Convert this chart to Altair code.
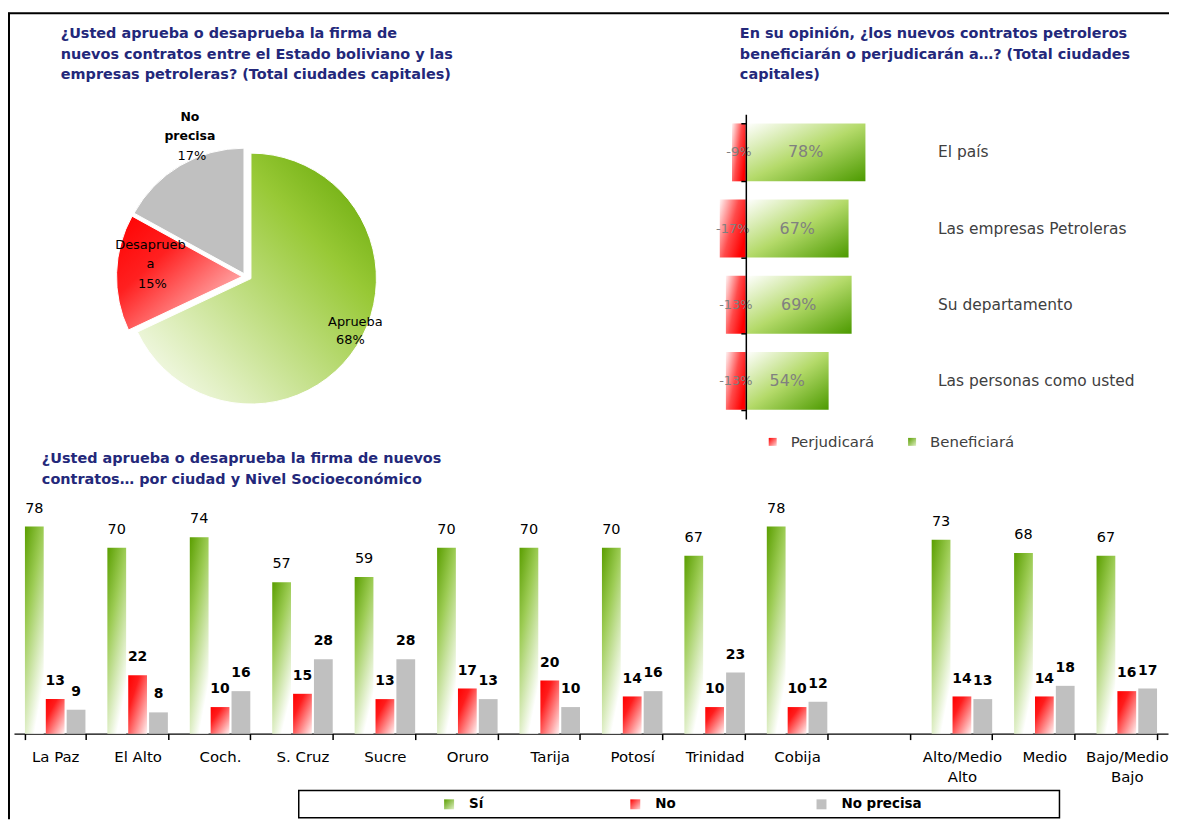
import altair as alt
import pandas as pd

W, H = 1166, 813
FONT = "DejaVu Sans"
NAVY = "#23287a"

# ---------------- data ----------------
pie_cats = ["Aprueba", "Desaprueba", "No precisa"]
pie_names = ["Aprueba", "Desaprueb\na", "No\nprecisa"]
pie_values = [68, 15, 17]

hb_cats = ["El país", "Las empresas Petroleras", "Su departamento", "Las personas como usted"]
hb_series = ["Perjudicará", "Beneficiará"]
hb_perjudicara = [-9, -17, -13, -13]
hb_beneficiara = [78, 67, 69, 54]

cities = ["La Paz", "El Alto", "Coch.", "S. Cruz", "Sucre", "Oruro", "Tarija",
          "Potosí", "Trinidad", "Cobija"]
nse_levels = ["Alto/Medio Alto", "Medio", "Bajo/Medio Bajo"]
gap_slot = [" "]
bar_series = ["Sí", "No", "No precisa"]
si_values = [78, 70, 74, 57, 59, 70, 70, 70, 67, 78, 73, 68, 67]
no_values = [13, 22, 10, 15, 13, 17, 20, 14, 10, 10, 14, 14, 16]
np_values = [9, 8, 16, 28, 28, 13, 10, 16, 23, 12, 13, 18, 17]

title_pie = ("¿Usted aprueba o desaprueba la firma de\n"
             "nuevos contratos entre el Estado boliviano y las\n"
             "empresas petroleras? (Total ciudades capitales)")
title_hb = ("En su opinión, ¿los nuevos contratos petroleros\n"
            "beneficiarán o perjudicarán a…? (Total ciudades\n"
            "capitales)")
title_bar = ("¿Usted aprueba o desaprueba la firma de nuevos\n"
             "contratos… por ciudad y Nivel Socioeconómico")


def lin(stops, x1=0, y1=0, x2=1, y2=1):
    return {"gradient": "linear", "x1": x1, "y1": y1, "x2": x2, "y2": y2,
            "stops": [{"offset": o, "color": c} for o, c in stops]}


GREEN_PIE = lin([(0, "#5ea200"), (0.3, "#98c936"), (0.75, "#dcedb8"), (1, "#ffffff")], 1, 0, 0, 1)
RED_PIE = lin([(0, "#ff0000"), (0.35, "#ff2020"), (1, "#ffe6e6")], 0, 0, 1, 1)
GRAY = "#c0c0c0"
RED_HB = lin([(0, "#fff4f4"), (0.55, "#ff4a4a"), (1, "#ff0000")], 0, 0, 1, 0.6)
GREEN_HB = lin([(0, "#ffffff"), (0.5, "#b4da6a"), (1, "#4c9a00")], 0, 0, 1, 1)
GREEN_BAR = lin([(0, "#5a9e00"), (0.4, "#9dcc55"), (1, "#ffffff")], 0, 0, 0.5, 1)
RED_BAR = lin([(0, "#ff0000"), (0.3, "#ff1c1c"), (1, "#fff2f2")], 0, 0, 1, 1)
GREEN_SQ = lin([(0, "#5a9e00"), (1, "#dff0c4")], 0, 0, 1, 1)
RED_SQ = lin([(0, "#ff0000"), (1, "#ffd6d6")], 0, 0, 1, 1)

# ---------------- pie ----------------
pie_df = pd.DataFrame({"cat": pie_cats, "name": pie_names, "value": pie_values})
pie_df["end"] = pie_df["value"].cumsum()
pie_df["start"] = pie_df["end"] - pie_df["value"]
pie_df["mid"] = (pie_df["start"] + pie_df["end"]) / 2
pie_df["pct"] = pie_df["value"].astype(str) + "%"

theta_scale = alt.Scale(domain=[0, 100], range=[0, 6.283185307179586])

slice_style = {
    "Aprueba": dict(cx=244, cy=270, fill=GREEN_PIE, r=110, ndx=12, ndy=-15,
                    pdx=7, pdy=3, fs=13, fw="normal"),
    "Desaprueba": dict(cx=235, cy=268, fill=RED_PIE, r=91, ndx=-1, ndy=-29,
                       pdx=1, pdy=10, fs=13, fw="normal"),
    "No precisa": dict(cx=237, cy=265, fill=GRAY, r=150, ndx=22, ndy=-28,
                       pdx=24, pdy=11, fs=12.5, fw="bold"),
}

pie_layers = []
for cat in pie_cats:
    st = slice_style[cat]
    base = alt.Chart(pie_df).transform_filter(alt.datum.cat == cat)
    arc = base.mark_arc(outerRadius=126, color=st["fill"], stroke="white", strokeWidth=1).encode(
        theta=alt.Theta("start:Q", scale=theta_scale, stack=False),
        theta2=alt.Theta2("end:Q"),
        x=alt.value(st["cx"]), y=alt.value(st["cy"]))
    name = base.mark_text(radius=st["r"], dx=st["ndx"], dy=st["ndy"], font=FONT,
                          fontSize=st["fs"], fontWeight=st["fw"], lineBreak="\n",
                          lineHeight=19, color="black", baseline="middle").encode(
        theta=alt.Theta("mid:Q", scale=theta_scale, stack=False), text="name:N",
        x=alt.value(st["cx"]), y=alt.value(st["cy"]))
    pct = base.mark_text(radius=st["r"], dx=st["pdx"], dy=st["pdy"], font=FONT,
                         fontSize=13, color="black", baseline="middle").encode(
        theta=alt.Theta("mid:Q", scale=theta_scale, stack=False), text="pct:N",
        x=alt.value(st["cx"]), y=alt.value(st["cy"]))
    pie_layers += [arc, name, pct]
pie_group = alt.layer(*pie_layers)

# ---------------- horizontal bars ----------------
hb_df = pd.DataFrame({"cat": hb_cats * 2,
                      "series": [hb_series[0]] * 4 + [hb_series[1]] * 4,
                      "value": hb_perjudicara + hb_beneficiara})
hb_x = alt.Scale(domain=[-20, 100], range=[710.2, 895])
hb_y = alt.Scale(domain=hb_cats, range=[105, 411], paddingInner=0.24, paddingOuter=0.12)
hb_axis = alt.Axis(orient="left", offset=-741, labels=False, title=None, grid=False,
                   domainColor="black", domainWidth=1.5, tickColor="black",
                   tickWidth=1.5, tickSize=5, tickBand="extent", zindex=2)


def hb_yenc():
    return alt.Y("cat:N", scale=hb_y, axis=hb_axis)


hb_layers = []
for s, g in zip(hb_series, [RED_HB, GREEN_HB]):
    hb_layers.append(alt.Chart(hb_df).transform_filter(alt.datum.series == s)
                     .mark_bar(color=g)
                     .encode(x=alt.X("value:Q", scale=hb_x, axis=None), y=hb_yenc()))
hb_txt = alt.Chart(hb_df).transform_calculate(center="datum.value / 2",
                                              label="datum.value + '%'")
hb_layers.append(hb_txt.transform_filter(alt.datum.value > 0)
                 .mark_text(font=FONT, fontSize=16, color="#808080")
                 .encode(x=alt.X("center:Q", scale=hb_x, axis=None), y=hb_yenc(),
                         text="label:N"))
hb_layers.append(hb_txt.transform_filter(alt.datum.value < 0)
                 .mark_text(font=FONT, fontSize=13, color="#808080")
                 .encode(x=alt.X("center:Q", scale=hb_x, axis=None), y=hb_yenc(),
                         text="label:N"))
hb_layers.append(alt.Chart(pd.DataFrame({"cat": hb_cats}))
                 .mark_text(align="left", font=FONT, fontSize=15.5, color="#404040")
                 .encode(y=hb_yenc(), x=alt.value(934), text="cat:N"))
hb_group = alt.layer(*hb_layers)

hb_leg_df = pd.DataFrame({"series": hb_series})
hb_leg_x = alt.Scale(type="point", domain=hb_series, range=[768, 908], padding=0)
hb_leg_layers = []
for s, g in zip(hb_series, [RED_SQ, GREEN_SQ]):
    hb_leg_layers.append(alt.Chart(hb_leg_df).transform_filter(alt.datum.series == s)
                         .mark_square(size=64, color=g, opacity=1)
                         .encode(x=alt.X("series:N", scale=hb_leg_x, axis=None),
                                 y=alt.value(434)))
hb_leg_layers.append(alt.Chart(hb_leg_df)
                     .mark_text(align="left", dx=18, font=FONT, fontSize=15, color="#404040")
                     .encode(x=alt.X("series:N", scale=hb_leg_x, axis=None),
                             y=alt.value(434), text="series:N"))
hb_leg_group = alt.layer(*hb_leg_layers)

# ---------------- grouped bars ----------------
groups_with_data = cities + nse_levels
bar_df = pd.DataFrame({
    "group": groups_with_data * 3,
    "series": sum([[s] * len(groups_with_data) for s in bar_series], []),
    "value": si_values + no_values + np_values,
})
x_domain = cities + gap_slot + nse_levels
bar_x_scale = alt.Scale(domain=x_domain, range=[6, 1165], paddingInner=0.266, paddingOuter=0.133)
bar_axis = alt.Axis(orient="bottom", offset=727 - H, title=None, grid=False,
                    domainColor="black", domainWidth=1.5, tickColor="black",
                    tickWidth=1.5, tickSize=6, tickBand="extent", labelAngle=0,
                    labelFont=FONT, labelFontSize=15, labelColor="black",
                    labelPadding=10, labelLineHeight=20, labelOverlap=False,
                    labelExpr="indexof(datum.label, '/') >= 0 ? split(datum.label, ' ') : datum.label")
bar_xoff_scale = alt.Scale(domain=bar_series, paddingInner=0.1)
bar_y_scale = alt.Scale(domain=[0, 100], range=[727, 460.33])


def benc():
    return dict(x=alt.X("group:N", scale=bar_x_scale, axis=bar_axis),
                xOffset=alt.XOffset("series:N", scale=bar_xoff_scale),
                y=alt.Y("value:Q", scale=bar_y_scale, axis=None))


bar_layers = []
for s, g in zip(bar_series, [GREEN_BAR, RED_BAR, GRAY]):
    bar_layers.append(alt.Chart(bar_df).transform_filter(alt.datum.series == s)
                      .mark_bar(color=g).encode(**benc()))
bar_layers.append(alt.Chart(bar_df).transform_filter(alt.datum.series == bar_series[0])
                  .mark_text(font=FONT, fontSize=14.5, color="black", baseline="alphabetic", dy=-14)
                  .encode(text="value:Q", **benc()))
bar_layers.append(alt.Chart(bar_df).transform_filter(alt.datum.series != bar_series[0])
                  .mark_text(font=FONT, fontSize=14, fontWeight="bold", color="black",
                             baseline="alphabetic", dy=-14)
                  .encode(text="value:Q", **benc()))
bar_group = alt.layer(*bar_layers)

one = pd.DataFrame({"a": [0]})
bar_leg_df = pd.DataFrame({"series": bar_series})
bar_leg_x = alt.Scale(type="point", domain=bar_series, range=[443, 817], padding=0)
bar_leg_layers = [alt.Chart(one).mark_rect(fill="white", stroke="black", strokeWidth=1.5)
                  .encode(x=alt.value(292), x2=alt.value(1056), y=alt.value(784), y2=alt.value(811.5))]
for s, g in zip(bar_series, [GREEN_SQ, RED_SQ, GRAY]):
    bar_leg_layers.append(alt.Chart(bar_leg_df).transform_filter(alt.datum.series == s)
                          .mark_square(size=100, color=g, opacity=1)
                          .encode(x=alt.X("series:N", scale=bar_leg_x, axis=None),
                                  y=alt.value(798)))
bar_leg_layers.append(alt.Chart(bar_leg_df)
                      .mark_text(align="left", dx=20, font=FONT, fontSize=13.5,
                                 fontWeight="bold", color="black")
                      .encode(x=alt.X("series:N", scale=bar_leg_x, axis=None),
                              y=alt.value(798), text="series:N"))
bar_leg_group = alt.layer(*bar_leg_layers)


# ---------------- titles & frame ----------------
def title_layer(txt, x, y):
    return (alt.Chart(pd.DataFrame({"t": [txt]}))
            .mark_text(align="left", baseline="top", lineBreak="\n", lineHeight=21,
                       font=FONT, fontSize=14.5, fontWeight="bold", color=NAVY)
            .encode(text="t:N", x=alt.value(x), y=alt.value(y)))


titles = alt.layer(title_layer(title_pie, 53, 17), title_layer(title_hb, 735, 17),
                   title_layer(title_bar, 34, 444))

top_line = alt.Chart(one).mark_rule(color="black", strokeWidth=2).encode(
    x=alt.value(0), x2=alt.value(W), y=alt.value(3.5))
left_line = alt.Chart(one).mark_rule(color="black", strokeWidth=2).encode(
    x=alt.value(1), y=alt.value(3), y2=alt.value(H))

chart = (alt.layer(pie_group, hb_group, hb_leg_group, bar_group, bar_leg_group,
                   titles, top_line, left_line)
         .resolve_scale(x="independent", y="independent")
         .properties(width=W, height=H, padding=0,
                     autosize=alt.AutoSizeParams(type="none"))
         .configure_view(strokeWidth=0))

chart.save("out.html", embed_options={"renderer": "svg", "actions": False})
